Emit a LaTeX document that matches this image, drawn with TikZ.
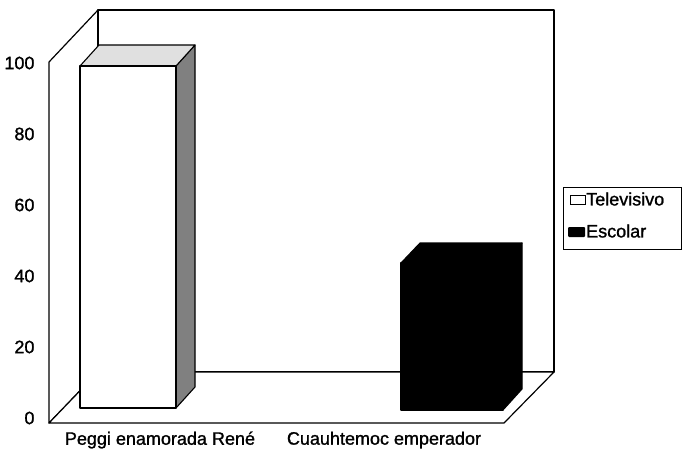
\documentclass[tikz,border=0pt]{standalone}
\usepackage{fontspec}
\setmainfont{Liberation Sans}[BoldFont=Liberation Sans, BoldFeatures={FakeBold=1.2}]
\tikzset{
	wall/.style={draw=black, line width=1.2pt, line join=round, fill=white},
	tvface/.style={draw=black, line width=1.1pt, line join=round, fill=white},
	tvtop/.style={tvface, fill=black!12},
	tvside/.style={tvface, fill=black!50},
	escface/.style={draw=black, line width=1.1pt, line join=round, fill=black},
	ticklabel/.style={anchor=east, font=\fontsize{18}{20}\selectfont\bfseries},
	catlabel/.style={font=\fontsize{18}{20}\selectfont\bfseries},
	keylabel/.style={anchor=west, inner sep=1pt, font=\fontsize{18}{20}\selectfont\bfseries}
}
\begin{document}
\begin{tikzpicture}[x=1pt, y=-1pt]
	\useasboundingbox (0,0) rectangle (682,453);
	% walls and floor
	\draw[wall] (49,423) -- (49,62) -- (98,10) -- (98,372) -- cycle;
	\draw[wall] (98,10) rectangle (554,372);
	\draw[wall] (49,423) -- (98,372) -- (554,372) -- (504,423) -- cycle;
	% value axis
	\foreach \v in {0,20,...,100}
		\node[ticklabel] (tick\v) at (38, 418-3.55*\v) {\v};
	% Televisivo bar
	\draw[tvside] (176,66) -- (195,45) -- (195,387) -- (176,408) -- cycle;
	\draw[tvtop] (80,66) -- (99,45) -- (195,45) -- (176,66) -- cycle;
	\draw[tvface] (80,66) rectangle (176,408);
	% Escolar bar
	\draw[escface] (503,263) -- (522,243) -- (522,389) -- (503,410) -- cycle;
	\draw[escface] (401,263) -- (420,243) -- (522,243) -- (503,263) -- cycle;
	\draw[escface] (401,263) rectangle (503,410);
	% categories
	\node[catlabel] (peggi) at (160,440) {Peggi enamorada René};
	\node[catlabel] (cuauh) at (384,440) {Cuauhtemoc emperador};
	% legend
	\draw[line width=1pt] (563,187) rectangle (681,249);
	\draw[line width=1pt] (570,195) rectangle (585,204);
	\node[keylabel] (tv) at (585,199) {Televisivo};
	\fill[black, rounded corners=1pt] (568,227) rectangle (585,237);
	\node[keylabel] (esc) at (585,231) {Escolar};
\end{tikzpicture}
\end{document}
